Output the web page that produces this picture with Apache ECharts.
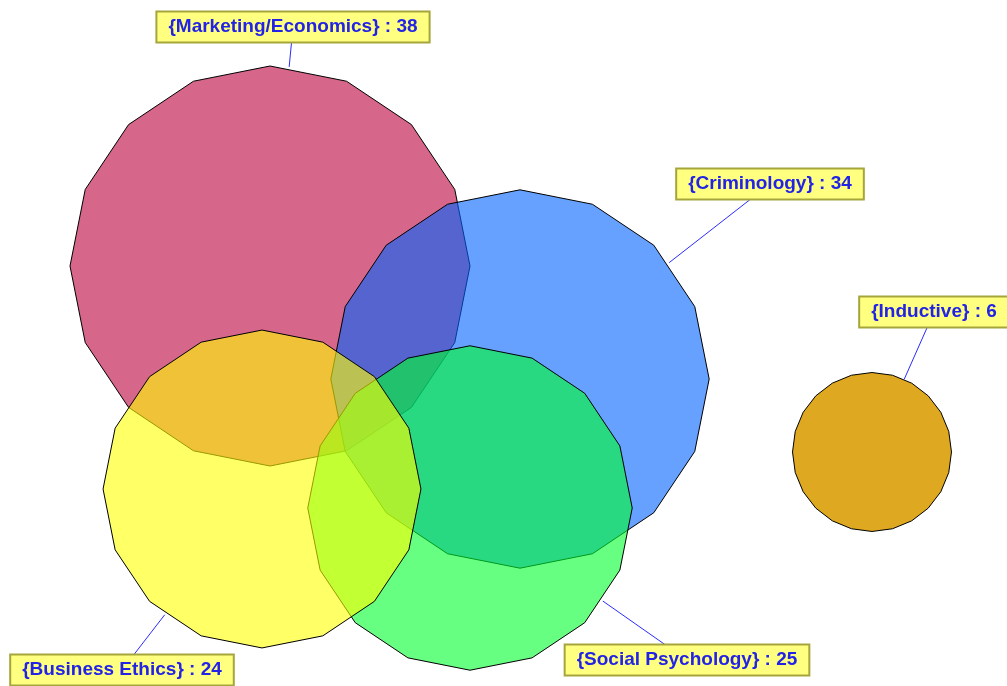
<!DOCTYPE html>
<html>
<head>
<meta charset="utf-8">
<script src="https://cdn.jsdelivr.net/npm/echarts/dist/echarts.min.js"></script>
<style>
	html, body { margin: 0; padding: 0; background: #fff; }
	#vennContent { width: 1007px; height: 686px; }
</style>
</head>
<body>
<div id="vennContent"></div>
<script>
// sets, in draw order
let setNames = ['Marketing/Economics', 'Criminology', 'Social Psychology', 'Business Ethics', 'Inductive']
let setCounts = [38, 34, 25, 24, 6]
// circle centres in the layout space (x right, y down)
let centreX = [270, 520, 470, 262, 872]
let centreY = [266, 379, 508, 489, 452]
// label box centres
let labelX = [293, 770, 687, 122, 934]
let labelY = [27, 184, 660, 670, 312]

let setColors = ['rgba(187,0,60,0.6)', 'rgba(0,98,255,0.6)', 'rgba(0,255,45,0.6)', 'rgba(255,255,0,0.6)', 'rgba(223,168,33,1)']
let radiusScale = 200 / Math.sqrt(38)

let vennData = setNames.map((name, i) => {
	return [centreX[i], centreY[i], setCounts[i], labelX[i], labelY[i], name]
})

vennInit = () => {
	let vennContent = echarts.init(document.getElementById('vennContent'));
	let vennOption = {
		backgroundColor: '#fff',
		animation: false,
		grid: {
			left: 0,
			right: 0,
			top: 0,
			bottom: 0
		},
		xAxis: {
			type: 'value',
			min: 0,
			max: 1007,
			show: false
		},
		yAxis: {
			type: 'value',
			min: 0,
			max: 686,
			inverse: true,
			show: false
		},
		series: [{
			type: 'custom',
			dimensions: ['x', 'y', 'count', 'lx', 'ly', 'name'],
			renderItem: function(params, api) {
				let c = api.coord([api.value(0), api.value(1)])
				let r = Math.abs(api.size([radiusScale * Math.sqrt(api.value(2)), 0])[0])
				// small circles get a finer outline
				let sides = r > 100 ? 16 : 24
				let pts = []
				for (let i = 0; i < sides; i++) {
					let a = -Math.PI / 2 + i * 2 * Math.PI / sides
					pts.push([c[0] + r * Math.cos(a), c[1] + r * Math.sin(a)])
				}
				let l = api.coord([api.value(3), api.value(4)])
				let d = Math.hypot(l[0] - c[0], l[1] - c[1])
				let e = [c[0] + (l[0] - c[0]) * r / d, c[1] + (l[1] - c[1]) * r / d]
				let idx = params.dataIndex
				return {
					type: 'group',
					children: [{
							type: 'polygon',
							shape: { points: pts },
							style: {
								fill: setColors[idx],
								stroke: '#000',
								lineWidth: 1
							}
						},
						{
							type: 'line',
							shape: { x1: e[0], y1: e[1], x2: l[0], y2: l[1] },
							style: { stroke: '#2b2bff', lineWidth: 1 }
						},
						{
							type: 'text',
							x: l[0],
							y: l[1],
							style: {
								text: '{' + setNames[idx] + '} : ' + api.value(2),
								align: 'center',
								verticalAlign: 'middle',
								font: 'bold 19px "Liberation Sans", Arial, sans-serif',
								fill: '#2323e6',
								backgroundColor: '#ffff80',
								borderColor: '#a5a53c',
								borderWidth: 2,
								padding: [5, 11, 5, 11]
							}
						}
					]
				}
			},
			data: vennData
		}]
	};
	vennContent.setOption(vennOption)
}
vennInit()
</script>
</body>
</html>
